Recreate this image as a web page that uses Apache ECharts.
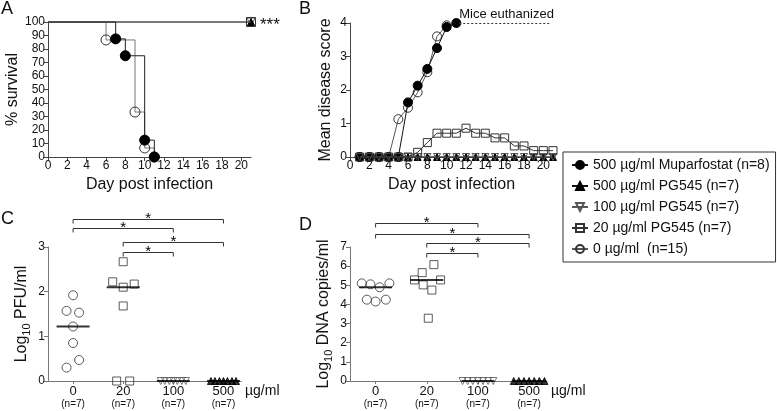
<!DOCTYPE html>
<html><head><meta charset="utf-8">
<script src="https://cdn.jsdelivr.net/npm/echarts@6/dist/echarts.min.js"></script>
<style>html,body{margin:0;padding:0;background:#fff}#c{width:777px;height:411px}</style>
</head><body><div id="c"></div>
<script>
// ================= DATA =================
const groupNames = ['500 µg/ml Muparfostat (n=8)', '500 µg/ml PG545 (n=7)', '100 µg/ml PG545 (n=7)', '20 µg/ml PG545 (n=7)', '0 µg/ml  (n=15)'];

// Panel A: survival (Kaplan-Meier steps)
const survMupDays = [0, 7, 8, 10, 11];
const survMupPct  = [100, 87.5, 75, 12.5, 0];
const survCtlDays = [0, 6, 9, 10, 11];
const survCtlPct  = [100, 86.7, 33.3, 6.7, 0];
const survPgDays  = [0, 21];
const survPgPct   = [100, 100];
const survSignif  = '***';
const dayTicks = [0, 2, 4, 6, 8, 10, 12, 14, 16, 18, 20];

// Panel B: mean disease score
const mupDays   = [1, 2, 3, 4, 5, 6, 7, 8, 9, 10, 11];
const scoreMup  = [0, 0, 0, 0, 0, 1.63, 2.13, 2.63, 3.25, 3.88, 4.0];
const ctlDays   = [1, 2, 3, 4, 5, 6, 7, 8, 9, 10];
const scoreCtl  = [0, 0, 0, 0, 1.13, 1.47, 1.93, 2.53, 3.6, 3.93];
const pgDays    = [1, 2, 3, 4, 5, 6, 7, 8, 9, 10, 11, 12, 13, 14, 15, 16, 17, 18, 19, 20, 21];
const scorePg20  = [0, 0, 0, 0, 0, 0, 0.14, 0.43, 0.71, 0.71, 0.71, 0.86, 0.71, 0.71, 0.57, 0.57, 0.33, 0.33, 0.19, 0.19, 0.19];
const scorePg100 = [0, 0, 0, 0, 0, 0, 0, 0, 0, 0, 0, 0, 0, 0, 0, 0, 0, 0, 0, 0, 0];
const scorePg500 = [0, 0, 0, 0, 0, 0, 0, 0, 0, 0, 0, 0, 0, 0, 0, 0, 0, 0, 0, 0, 0];
const euthanizedText = 'Mice euthanized';
const euthanizedFrom = 11.3, euthanizedTo = 20.7, euthanizedScore = 4;

// Panels C / D: categories
const doseLabels = ['0', '20', '100', '500'];
const doseN = ['(n=7)', '(n=7)', '(n=7)', '(n=7)'];
const doseUnit = 'µg/ml';
// C: log10 PFU/ml
const pfu0   = [1.92, 1.57, 1.53, 1.22, 0.85, 0.47, 0.30];
const pfu20  = [2.67, 2.22, 2.10, 2.17, 1.68, 0, 0];
const pfu100 = [0, 0, 0, 0, 0, 0, 0];
const pfu500 = [0, 0, 0, 0, 0, 0, 0];
// D: log10 DNA copies/ml
const dna0   = [5.1, 5.05, 4.9, 5.1, 4.25, 4.15, 4.25];
const dna20  = [6.08, 5.66, 5.28, 5.28, 5.02, 4.75, 3.28];
const dna100 = [0, 0, 0, 0, 0, 0, 0];
const dna500 = [0, 0, 0, 0, 0, 0, 0];
// significance comparisons [from, to]
const sigC = [[0, 3], [0, 2], [1, 3], [1, 2]];
const sigD = [[0, 2], [0, 3], [1, 3], [1, 2]];
const sigMark = '*';

// ================= LAYOUT (positions only) =================
const jitPfu0  = [0, -0.13, 0.12, 0, 0, 0.12, -0.13];
const jitPfu20 = [0, -0.21, 0, 0.22, 0, -0.13, 0.13];
const jitRow7  = [-0.25, -0.17, -0.08, 0, 0.08, 0.17, 0.25];
const jitRow7D = [-0.3, -0.2, -0.1, 0, 0.1, 0.2, 0.3];
const jitDna0  = [-0.27, -0.1, 0.08, 0.27, -0.17, 0, 0.2];
const jitDna20 = [0.14, -0.09, -0.24, 0.27, -0.07, 0.1, 0.03];
const bracketLevelC = [3.62, 3.42, 3.12, 2.89];
const bracketLevelD = [8.24, 7.68, 7.19, 6.67];

const FONT = '"Liberation Sans", Arial, Helvetica, sans-serif';
const AX = '#444', AX2 = '#777';
const NOFILL = 'rgba(255,255,255,0)';

function pairs(xs, ys) { return xs.map((x, i) => [x, ys[i]]); }
function jittered(cat, ys, jit) { return ys.map((y, i) => [cat + jit[i], y]); }
function median(a) { const s = [...a].sort((p, q) => p - q); const m = s.length >> 1; return s.length % 2 ? s[m] : (s[m - 1] + s[m]) / 2; }
function kmData(xs, ys) { return xs.map((x, i) => i === 0 ? { value: [x, ys[i]], symbolSize: 0 } : [x, ys[i]]); }

const SYM = {
  mup:   { symbol: 'circle', color: '#000', border: '#000' },
  pg500: { symbol: 'triangle', color: '#000', border: '#000' },
  pg100: { symbol: 'path://M0,0L10,0L5,9Z', color: NOFILL, border: '#555' },
  pg20:  { symbol: 'rect', color: NOFILL, border: '#333' },
  ctl:   { symbol: 'circle', color: NOFILL, border: '#333' }
};
function itemSt(k) { return { color: SYM[k].color, borderColor: SYM[k].border, borderWidth: 1 }; }

function xDayAxis(gi) {
  return {
    gridIndex: gi, type: 'value', min: 0, max: 21,
    axisLine: { show: true, onZero: false, lineStyle: { color: AX, width: 1 } },
    axisTick: { show: true, customValues: dayTicks, length: 4, lineStyle: { color: AX } },
    axisLabel: { customValues: dayTicks, fontSize: 12, color: '#111', margin: 3, fontFamily: FONT },
    splitLine: { show: false },
    name: 'Day post infection', nameLocation: 'middle', nameGap: 20,
    nameTextStyle: { fontSize: 16, color: '#111', fontFamily: FONT }
  };
}
function yAxisOf(gi, min, max, interval, name, gap, col) {
  return {
    gridIndex: gi, type: 'value', min: min, max: max, interval: interval,
    axisLine: { show: true, onZero: false, lineStyle: { color: col, width: 1 } },
    axisTick: { show: true, length: 4, lineStyle: { color: col } },
    axisLabel: { fontSize: 12, color: '#111', margin: 3, fontFamily: FONT },
    splitLine: { show: false },
    name: name, nameLocation: 'middle', nameGap: gap, nameRotate: 90,
    nameTextStyle: {
      fontSize: 16, color: '#111', fontFamily: FONT,
      rich: { a: { fontSize: 16, lineHeight: 20, fontFamily: FONT, color: '#111' },
              s: { fontSize: 11, lineHeight: 11, verticalAlign: 'bottom', fontFamily: FONT, color: '#111' } }
    }
  };
}
function xDoseAxis(gi) {
  const cats = doseLabels.map((_, i) => i);
  return {
    gridIndex: gi, type: 'value', min: -0.5, max: 3.35,
    axisLine: { show: true, onZero: false, lineStyle: { color: AX2, width: 1.2 } },
    axisTick: { show: true, customValues: cats, length: 3, lineStyle: { color: AX2 } },
    axisLabel: {
      customValues: cats, margin: 3, color: '#111', fontFamily: FONT,
      formatter: v => '{v|' + doseLabels[v] + '}\n{n|' + doseN[v] + '}',
      rich: { v: { fontSize: 13, lineHeight: 14, fontFamily: FONT, color: '#111' },
              n: { fontSize: 10, lineHeight: 12, fontFamily: FONT, color: '#111' } }
    },
    splitLine: { show: false },
    name: doseUnit, nameLocation: 'end', nameGap: 4,
    nameTextStyle: { fontSize: 14, color: '#111', fontFamily: FONT, verticalAlign: 'top', padding: [3, 0, 0, 0] }
  };
}

function scatterSeries(gi, data, k, size, z) {
  return { type: 'scatter', xAxisIndex: gi, yAxisIndex: gi, data: data, symbol: SYM[k].symbol, symbolSize: size,
           itemStyle: itemSt(k), z: z || 3, clip: false, silent: true };
}
function medianSeries(gi, groups) {
  return { type: 'scatter', xAxisIndex: gi, yAxisIndex: gi, data: groups.map((g, i) => [i, median(g)]),
           symbol: 'rect', symbolSize: [33, 2], itemStyle: { color: '#000' }, z: 6, clip: false, silent: true };
}
function bracketSeries(gi, sig, levels) {
  return {
    type: 'custom', xAxisIndex: gi, yAxisIndex: gi, clip: false, silent: true, z: 5,
    data: sig.map(p => [p[0], p[1], 0]), encode: { x: [0, 1], y: 2 },
    renderItem: function (params, api) {
      const lv = levels[params.dataIndex];
      const p1 = api.coord([api.value(0), lv]);
      const p2 = api.coord([api.value(1), lv]);
      const y = Math.round(p1[1]) + 0.5;
      return { type: 'group', children: [
        { type: 'polyline', shape: { points: [[p1[0], y + 4], [p1[0], y], [p2[0], y], [p2[0], y + 4]] },
          style: { stroke: '#333', fill: null, lineWidth: 1 } },
        { type: 'text', x: (p1[0] + p2[0]) / 2, y: y - 1,
          style: { text: sigMark, fontSize: 15, fontFamily: FONT, fill: '#000', align: 'center', verticalAlign: 'middle' } }
      ] };
    }
  };
}

// ================= OPTION =================
const series = [
  // ---- B (legend source) ----
  { name: groupNames[4], type: 'line', xAxisIndex: 1, yAxisIndex: 1, data: pairs(ctlDays, scoreCtl),
    symbol: SYM.ctl.symbol, symbolSize: 9, itemStyle: itemSt('ctl'), lineStyle: { color: '#555', width: 1 }, clip: false, z: 2 },
  { name: groupNames[0], type: 'line', xAxisIndex: 1, yAxisIndex: 1, data: pairs(mupDays, scoreMup),
    symbol: SYM.mup.symbol, symbolSize: 9, itemStyle: itemSt('mup'), lineStyle: { color: '#111', width: 1 }, clip: false, z: 3,
    markLine: { silent: true, symbol: ['none', 'none'], lineStyle: { type: [2, 2], color: '#333', width: 1 },
      label: { show: true, position: 'insideStartTop', formatter: euthanizedText, fontSize: 13, color: '#111', fontFamily: FONT, distance: [0, 2] },
      data: [[{ coord: [euthanizedFrom, euthanizedScore] }, { coord: [euthanizedTo, euthanizedScore] }]] } },
  { name: groupNames[1], type: 'line', xAxisIndex: 1, yAxisIndex: 1, data: pairs(pgDays, scorePg500),
    symbol: SYM.pg500.symbol, symbolSize: 7, itemStyle: itemSt('pg500'), lineStyle: { color: '#111', width: 1 }, clip: false, z: 4 },
  { name: groupNames[2], type: 'line', xAxisIndex: 1, yAxisIndex: 1, data: pairs(pgDays, scorePg100),
    symbol: SYM.pg100.symbol, symbolSize: 7, itemStyle: itemSt('pg100'), lineStyle: { color: '#555', width: 1 }, clip: false, z: 5 },
  { name: groupNames[3], type: 'line', xAxisIndex: 1, yAxisIndex: 1, data: pairs(pgDays, scorePg20),
    symbol: SYM.pg20.symbol, symbolSize: 8, itemStyle: itemSt('pg20'), lineStyle: { color: '#333', width: 1 }, clip: false, z: 6 },

  // ---- A ----
  { name: 'A-pg100', type: 'line', step: 'end', xAxisIndex: 0, yAxisIndex: 0, data: kmData(survPgDays, survPgPct),
    symbol: SYM.pg100.symbol, symbolSize: 8, itemStyle: itemSt('pg100'), lineStyle: { color: '#666', width: 1 }, clip: false, z: 2 },
  { name: 'A-pg500', type: 'line', step: 'end', xAxisIndex: 0, yAxisIndex: 0, data: kmData(survPgDays, survPgPct),
    symbol: SYM.pg500.symbol, symbolSize: 7, itemStyle: itemSt('pg500'), lineStyle: { color: '#666', width: 1 }, clip: false, z: 3,
    label: { show: true, position: 'right', distance: 5, offset: [0, 3], fontSize: 17, color: '#111', fontFamily: FONT,
      formatter: p => p.dataIndex === survPgDays.length - 1 ? survSignif : '' } },
  { name: 'A-pg20', type: 'line', step: 'end', xAxisIndex: 0, yAxisIndex: 0, data: kmData(survPgDays, survPgPct),
    symbol: SYM.pg20.symbol, symbolSize: 9, itemStyle: itemSt('pg20'), lineStyle: { color: '#666', width: 1 }, clip: false, z: 4 },
  { name: 'A-ctl', type: 'line', step: 'end', xAxisIndex: 0, yAxisIndex: 0, data: kmData(survCtlDays, survCtlPct),
    symbol: SYM.ctl.symbol, symbolSize: 10, itemStyle: itemSt('ctl'), lineStyle: { color: '#777', width: 1 }, clip: false, z: 5 },
  { name: 'A-mup', type: 'line', step: 'end', xAxisIndex: 0, yAxisIndex: 0, data: kmData(survMupDays, survMupPct),
    symbol: SYM.mup.symbol, symbolSize: 10, itemStyle: itemSt('mup'), lineStyle: { color: '#222', width: 1 }, clip: false, z: 6 },

  // ---- C ----
  scatterSeries(2, jittered(0, pfu0, jitPfu0), 'ctl', 9),
  scatterSeries(2, jittered(1, pfu20, jitPfu20), 'pg20', 8),
  scatterSeries(2, jittered(2, pfu100, jitRow7), 'pg100', 7),
  scatterSeries(2, jittered(3, pfu500, jitRow7), 'pg500', 7),
  medianSeries(2, [pfu0, pfu20, pfu100, pfu500]),
  bracketSeries(2, sigC, bracketLevelC),

  // ---- D ----
  scatterSeries(3, jittered(0, dna0, jitDna0), 'ctl', 9),
  scatterSeries(3, jittered(1, dna20, jitDna20), 'pg20', 8),
  scatterSeries(3, jittered(2, dna100, jitRow7D), 'pg100', 7),
  scatterSeries(3, jittered(3, dna500, jitRow7D), 'pg500', 7),
  medianSeries(3, [dna0, dna20, dna100, dna500]),
  bracketSeries(3, sigD, bracketLevelD)
];

const option = {
  backgroundColor: '#fff',
  animation: false,
  textStyle: { fontFamily: FONT },
  grid: [
    { left: 48, top: 22, width: 203, height: 135 },
    { left: 350, top: 23, width: 203, height: 134 },
    { left: 48, top: 247, width: 193, height: 134 },
    { left: 350, top: 247, width: 197, height: 134 }
  ],
  xAxis: [xDayAxis(0), xDayAxis(1), xDoseAxis(2), xDoseAxis(3)],
  yAxis: [
    yAxisOf(0, 0, 100, 10, '% survival', 27, AX),
    yAxisOf(1, 0, 4, 1, 'Mean disease score', 16, AX),
    yAxisOf(2, 0, 3, 1, '{a|Log}{s|10}{a| PFU/ml}', 16, AX2),
    yAxisOf(3, 0, 7, 1, '{a|Log}{s|10}{a| DNA copies/ml}', 16, AX2)
  ],
  legend: {
    data: groupNames, orient: 'vertical', left: 563, top: 152,
    padding: [6, 6, 6, 8], itemGap: 7, itemWidth: 16, itemHeight: 10,
    borderColor: '#333', borderWidth: 1, selectedMode: false,
    textStyle: { fontSize: 14, color: '#111', fontFamily: FONT }
  },
  graphic: [
    { type: 'text', left: 1, top: 0, style: { text: 'A', fontSize: 18, fill: '#111', fontFamily: FONT } },
    { type: 'text', left: 299, top: 0, style: { text: 'B', fontSize: 18, fill: '#111', fontFamily: FONT } },
    { type: 'text', left: 1, top: 210, style: { text: 'C', fontSize: 18, fill: '#111', fontFamily: FONT } },
    { type: 'text', left: 299, top: 216, style: { text: 'D', fontSize: 18, fill: '#111', fontFamily: FONT } }
  ],
  series: series
};

const chart = echarts.init(document.getElementById('c'));
chart.setOption(option);
</script>
</body></html>
